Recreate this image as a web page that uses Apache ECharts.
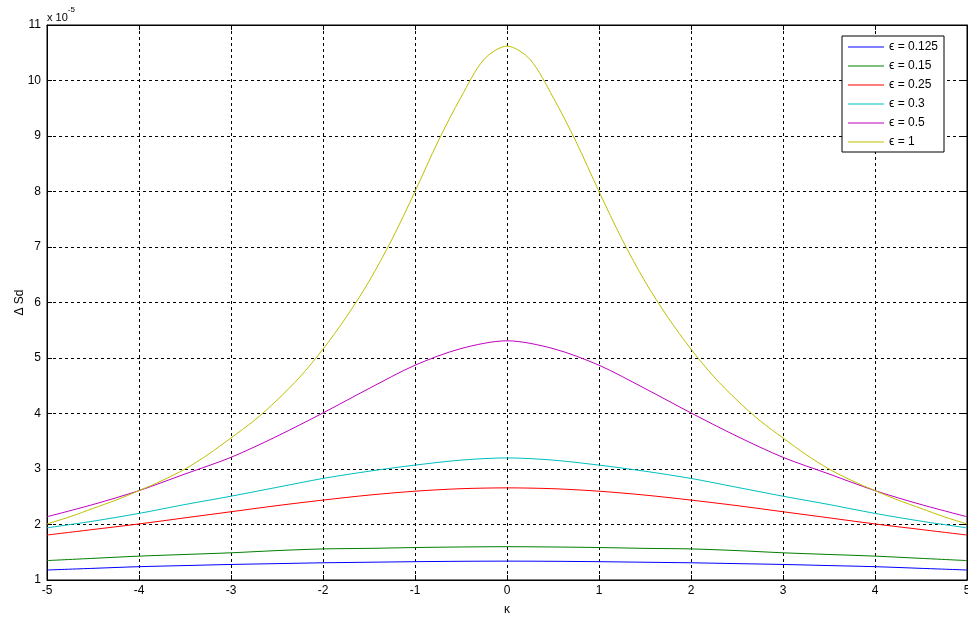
<!DOCTYPE html>
<html>
<head>
<meta charset="utf-8">
<script src="https://cdn.jsdelivr.net/npm/echarts@6/dist/echarts.min.js"></script>
<style>
  html, body { margin: 0; padding: 0; background: #fff; }
  #main { width: 968px; height: 617px; }
</style>
</head>
<body>
<div id="main"></div>
<script>
/* kappa grid (step 0.5) */
const kappa = [-5, -4.5, -4, -3.5, -3, -2.5, -2, -1.5, -1, -0.5, 0, 0.5, 1, 1.5, 2, 2.5, 3, 3.5, 4, 4.5, 5];
/* finer grid (step 0.25) for the eps = 1 curve */
const kappaFine = [-5, -4.75, -4.5, -4.25, -4, -3.75, -3.5, -3.25, -3, -2.75, -2.5, -2.25, -2, -1.75, -1.5, -1.25, -1, -0.75, -0.5, -0.25, 0,
  0.25, 0.5, 0.75, 1, 1.25, 1.5, 1.75, 2, 2.25, 2.5, 2.75, 3, 3.25, 3.5, 3.75, 4, 4.25, 4.5, 4.75, 5];

/* values in units of 1e-5 */
const eps0125 = [1.18, 1.21, 1.24, 1.26, 1.28, 1.295, 1.31, 1.32, 1.33, 1.337, 1.34, 1.337, 1.33, 1.32, 1.31, 1.295, 1.28, 1.26, 1.24, 1.21, 1.18];
const eps015 = [1.35, 1.39, 1.43, 1.46, 1.49, 1.53, 1.56, 1.57, 1.585, 1.595, 1.6, 1.595, 1.585, 1.57, 1.56, 1.53, 1.49, 1.46, 1.43, 1.39, 1.35];
const eps025 = [1.81, 1.91, 2.01, 2.12, 2.23, 2.34, 2.44, 2.53, 2.6, 2.645, 2.66, 2.645, 2.6, 2.53, 2.44, 2.34, 2.23, 2.12, 2.01, 1.91, 1.81];
const eps03 = [1.94, 2.06, 2.2, 2.36, 2.51, 2.67, 2.83, 2.96, 3.07, 3.16, 3.2, 3.16, 3.07, 2.96, 2.83, 2.67, 2.51, 2.36, 2.2, 2.06, 1.94];
const eps05 = [2.14, 2.36, 2.61, 2.91, 3.21, 3.59, 4.01, 4.45, 4.87, 5.17, 5.31, 5.17, 4.87, 4.45, 4.01, 3.59, 3.21, 2.91, 2.61, 2.36, 2.14];
const eps1 = [2.01, 2.14, 2.29, 2.44, 2.61, 2.79, 3.0, 3.26, 3.56, 3.87, 4.24, 4.66, 5.16, 5.73, 6.38, 7.14, 8.0, 8.9, 9.7, 10.38, 10.62,
  10.38, 9.7, 8.9, 8.0, 7.14, 6.38, 5.73, 5.16, 4.66, 4.24, 3.87, 3.56, 3.26, 3.0, 2.79, 2.61, 2.44, 2.29, 2.14, 2.01];

const seriesNames = ['\u03f5 = 0.125', '\u03f5 = 0.15', '\u03f5 = 0.25', '\u03f5 = 0.3', '\u03f5 = 0.5', '\u03f5 = 1'];
const colors = ['#0000ff', '#008000', '#ff0000', '#00bfbf', '#bf00bf', '#bfbf00'];

function pairs(xs, ys) {
  return xs.map((x, i) => [x, ys[i]]);
}

const font = 'Liberation Sans, Arial, sans-serif';
const chart = echarts.init(document.getElementById('main'), null, { renderer: 'canvas' });

const allData = [
  pairs(kappa, eps0125),
  pairs(kappa, eps015),
  pairs(kappa, eps025),
  pairs(kappa, eps03),
  pairs(kappa, eps05),
  pairs(kappaFine, eps1)
];

chart.setOption({
  backgroundColor: '#fff',
  animation: false,
  textStyle: { fontFamily: font },
  grid: { left: 47, top: 25, right: 1, bottom: 37, outerBoundsMode: 'none', containLabel: false,
    show: true, borderColor: '#000', borderWidth: 1 },
  legend: {
    orient: 'vertical',
    left: 842,
    top: 36,
    padding: [4, 6, 3, 6],
    backgroundColor: '#fff',
    borderColor: '#000',
    borderWidth: 1,
    itemWidth: 36,
    itemHeight: 1,
    itemGap: 5,
    icon: 'rect',
    textStyle: { fontFamily: font, fontSize: 12, color: '#000', lineHeight: 14 },
    data: seriesNames
  },
  graphic: [{
    type: 'text',
    left: 47,
    top: 6,
    style: {
      text: '{a|x 10}{b|-5}',
      rich: {
        a: { fontFamily: font, fontSize: 11, fill: '#000', padding: [6, 0, 0, 0] },
        b: { fontFamily: font, fontSize: 8, fill: '#000', verticalAlign: 'top' }
      }
    }
  }],
  xAxis: [{
    type: 'value',
    min: -5,
    max: 5,
    interval: 1,
    name: '\u03ba',
    nameLocation: 'middle',
    nameGap: 24,
    nameTextStyle: { fontFamily: font, fontSize: 12, color: '#000' },
    axisLine: { onZero: false, lineStyle: { color: '#000' } },
    axisTick: { inside: true, length: 5, lineStyle: { color: '#000' } },
    axisLabel: { color: '#000', fontSize: 12, margin: 5 },
    splitLine: { show: true, lineStyle: { color: '#000', type: [3, 3], width: 1 } }
  }, {
    type: 'value',
    position: 'top',
    min: -5,
    max: 5,
    interval: 1,
    axisLine: { onZero: false, lineStyle: { color: '#000' } },
    axisTick: { inside: true, length: 5, lineStyle: { color: '#000' } },
    axisLabel: { show: false },
    splitLine: { show: false }
  }],
  yAxis: [{
    type: 'value',
    min: 1,
    max: 11,
    interval: 1,
    name: '\u0394 Sd',
    nameLocation: 'middle',
    nameGap: 21,
    nameMoveOverlap: false,
    nameRotate: 90,
    nameTextStyle: { fontFamily: font, fontSize: 12, color: '#000' },
    axisLine: { show: true, onZero: false, lineStyle: { color: '#000' } },
    axisTick: { show: true, inside: true, length: 5, lineStyle: { color: '#000' } },
    axisLabel: { color: '#000', fontSize: 12, margin: 6 },
    splitLine: { show: true, lineStyle: { color: '#000', type: [3, 3], width: 1 } }
  }, {
    type: 'value',
    position: 'right',
    min: 1,
    max: 11,
    interval: 1,
    axisLine: { show: true, onZero: false, lineStyle: { color: '#000' } },
    axisTick: { show: true, inside: true, length: 5, lineStyle: { color: '#000' } },
    axisLabel: { show: false },
    splitLine: { show: false }
  }],
  series: seriesNames.map((name, i) => ({
    name: name,
    type: 'line',
    data: allData[i],
    smooth: 0.3,
    showSymbol: false,
    symbol: 'none',
    color: colors[i],
    lineStyle: { width: 1, color: colors[i] },
    z: 3
  }))
});
</script>
</body>
</html>
